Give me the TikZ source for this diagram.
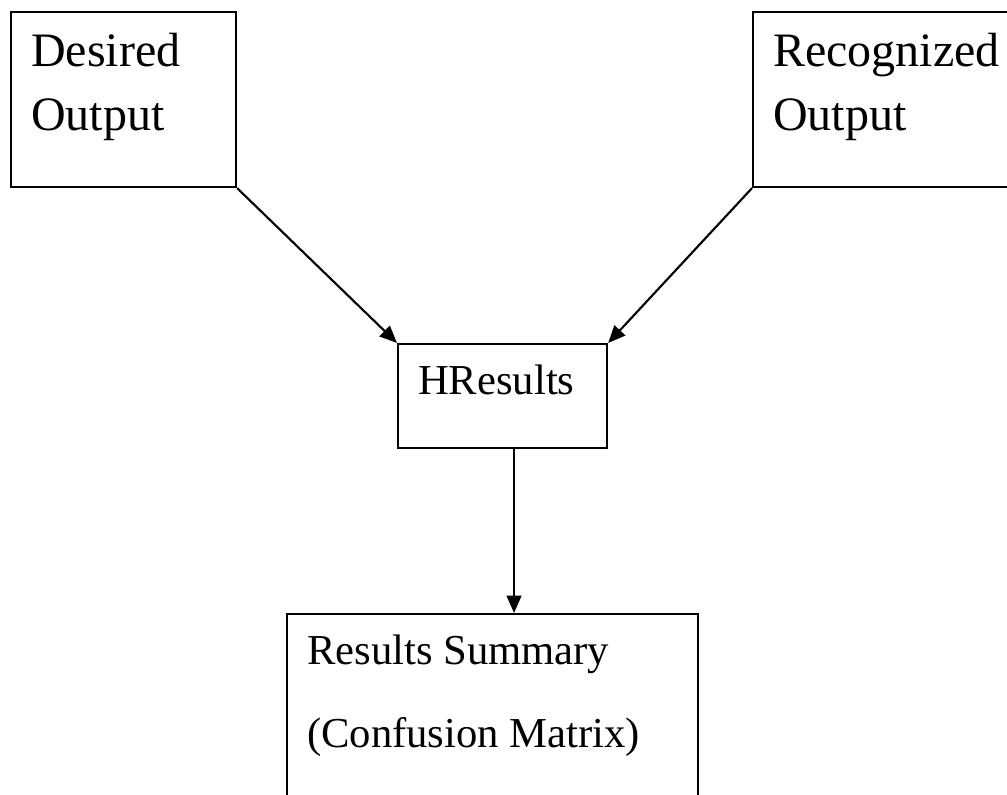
\documentclass[tikz,border=0pt]{standalone}
\usepackage{fontspec}
\setmainfont{Liberation Serif}
\usetikzlibrary{arrows.meta}
\newcommand{\boxtext}[3]{\parbox[t][#2][t]{#1}{#3}}

\begin{document}
\begin{tikzpicture}[x=0.75pt,y=-0.75pt,>={Triangle[length=13pt,width=11pt]},
  procbox/.style={draw,line width=1.6pt,anchor=north west,
                  inner xsep=15pt,inner ysep=15.5pt,align=left},
  bigtext/.style={font=\fontsize{36pt}{48pt}\selectfont},
  smalltext/.style={font=\fontsize{32pt}{62pt}\selectfont},
  link/.style={->,line width=1.6pt}]
  \clip (0,0) rectangle (1007,795);
  \node[procbox,bigtext] (desired) at (10,11)
    {\boxtext{138.75pt}{100.25pt}{Desired\\Output}};
  \node[procbox,bigtext] (recog) at (752,11)
    {\boxtext{168.75pt}{100.25pt}{Recognized\\Output}};
  \node[procbox,smalltext] (hres) at (397,343)
    {\boxtext{126.75pt}{47pt}{HResults}};
  \node[procbox,smalltext] (summary) at (286,613)
    {\boxtext{278pt}{119pt}{Results Summary\\(Confusion Matrix)}};
  \coordinate (hout) at ([xshift=8.6pt]hres.south);
  \draw[link] (desired.south east) -- (hres.north west);
  \draw[link] (recog.south west) -- (hres.north east);
  \draw[link] (hout) -- (hout |- summary.north);
\end{tikzpicture}
\end{document}
